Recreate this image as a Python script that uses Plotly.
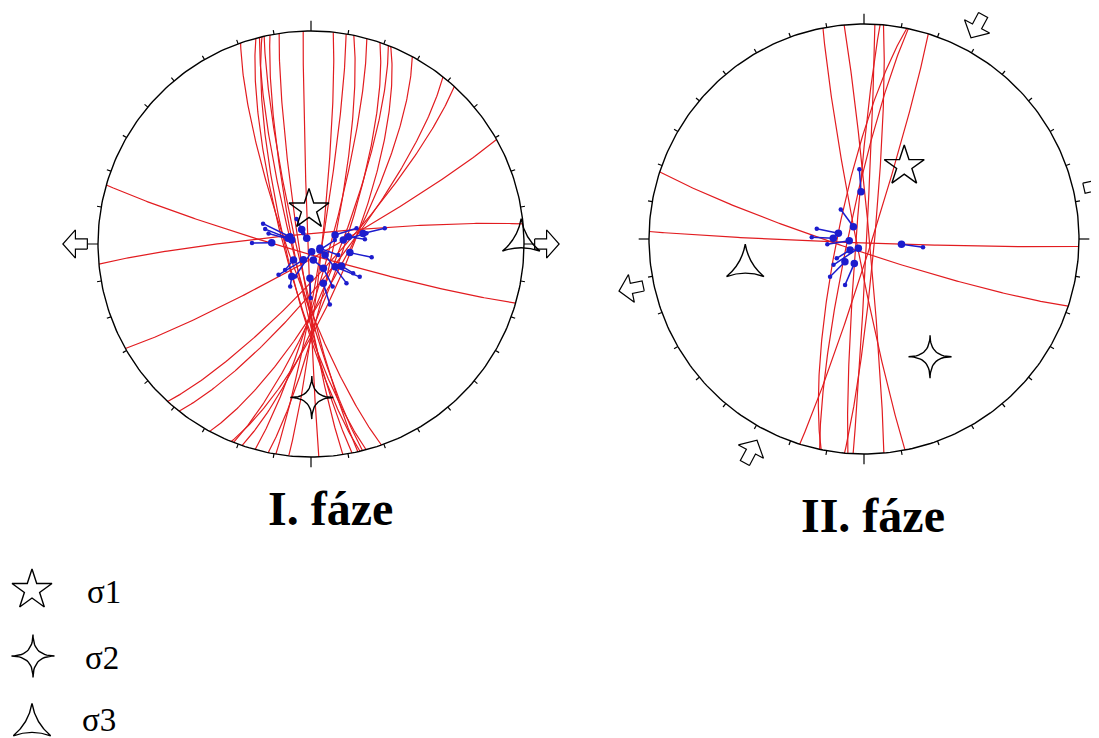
import numpy as np
import plotly.graph_objects as go

# ------------------------------------------------------------------ data
# Phase I: fault planes (right-hand-rule strike, dip), degrees
p1_strike = [6.0, 9.5, 11.6, 15.2, 18.9, 21.3, 22.0, 28.4, 38.3, 42.3,
             160.7, 165.0, 166.0, 166.7, 167.3, 168.9, 171.4, 177.9,
             60.6, 106.1, 264.6]
p1_dip = [85.8, 85.8, 81.4, 82.7, 77.7, 79.1, 74.8, 76.0, 78.0, 80.0,
          80.9, 79.7, 82.7, 80.2, 84.4, 83.1, 85.3, 88.8,
          85.0, 86.0, 86.0]
# Phase I: slip data (start point trend/plunge -> end point trend/plunge)
p1_from_trend = [289, 284, 282, 272, 327.5, 323, 69.4, 83, 78.5, 79, 102.5, 115.7,
                 128, 133.4, 125.7, 205.6, 227.8, 171.7, 210.6, 181.7, 153, 162.6, 123.7, 175]
p1_from_plunge = [81.5, 81.0, 82.5, 75.0, 83.4, 87.3, 80.2, 77.6, 69.7, 75.5, 74.8, 86.2,
                  83.2, 77.4, 75.7, 83.3, 81.0, 83.8, 75.6, 76.9, 79.6, 74.3, 85.9, 87.0]
p1_to_trend = [293, 288, 284, 271, 330, 324, 71, 79, 78, 85, 102.4, 112,
               137.8, 124, 124.7, 226.5, 225, 153, 206, 180.4, 153, 162.7, 80.5, 206]
p1_to_plunge = [70.1, 71.6, 73.3, 67.4, 79.0, 85.0, 71.6, 68.4, 61.0, 69.3, 66.2, 78.8,
                69.8, 67.5, 70.4, 72.9, 76.0, 79.6, 71.9, 69.3, 71.8, 65.7, 80.8, 76.2]
# Phase I: principal stress axes sigma1, sigma2, sigma3 (trend, plunge)
p1_sigma_trend = [356.7, 179.7, 89.0]
p1_sigma_plunge = [76.8, 28.7, 1.5]
# Phase I: horizontal stress arrows (azimuth, +1 outward = extension, -1 inward = compression)
p1_arrow_az = [90, 270]
p1_arrow_sense = [1, 1]

# Phase II
p2_strike = [17.4, 191.5, 191.9, 2.9, 184.3, 5.2, 169.0, 354.7, 108.2, 92.0]
p2_dip = [87.0, 80.0, 84.0, 89.0, 87.0, 86.0, 87.0, 88.0, 85.0, 88.5]
p2_from_trend = [356.4, 319, 282.5, 271.2, 263.5, 211.3, 231.8, 220, 201.7, 98]
p2_from_plunge = [72.1, 83.9, 80.1, 78.4, 84.4, 85.9, 83.3, 78.8, 80.1, 75.7]
p2_to_trend = [356.2, 321.8, 282.3, 271.8, 261.7, 229.7, 234.7, 222, 202.4, 98]
p2_to_plunge = [63.4, 75.8, 71.7, 70.2, 76.0, 74.9, 77.4, 70.8, 71.2, 67.4]
p2_sigma_trend = [28.9, 150.7, 257.3]
p2_sigma_plunge = [58.2, 37.3, 42.8]
p2_arrow_az = [28, 208, 77, 258]
p2_arrow_sense = [-1, -1, 1, 1]

titles = ["I. fáze", "II. fáze"]
legend_labels = ["σ1", "σ2", "σ3"]

# ------------------------------------------------------------------ layout constants
OFF = 8                      # page body margin of the written html
W, H = 1099 - OFF, 738 - OFF  # figure size so that it fills the window
RED = "rgb(226,28,32)"
BLUE = "rgb(28,28,205)"
SERIF = "Liberation Serif, Times New Roman, serif"
# stereonet centres / radii in window pixels
nets = [
    dict(cx=311 - OFF, cy=244 - OFF, R=213, xr=[-1.2, 1.25], yr=[-1.08, 1.08]),
    dict(cx=864 - OFF, cy=239 - OFF, R=215, yr=[-1.07, 1.07]),
]
nets[1]["xr"] = [-1.2, (W - nets[1]["cx"]) / nets[1]["R"]]
STAR5_SIZE, STAR4_RAD, TRI_SIZE = 30, 21.5, 27


def proj(trend, plunge):
    """Lower-hemisphere equal-area (Schmidt) projection, unit primitive."""
    t = np.radians(np.asarray(trend, float))
    p = np.radians(np.asarray(plunge, float))
    e, n, d = np.cos(p) * np.sin(t), np.cos(p) * np.cos(t), np.sin(p)
    k = 1.0 / np.sqrt(1.0 + d)
    return e * k, n * k


def great_circle(strike, dip):
    s, d = np.radians(strike), np.radians(dip)
    lam = np.linspace(0, np.pi, 181)
    e = np.cos(lam) * np.sin(s) + np.sin(lam) * np.cos(s) * np.cos(d)
    n = np.cos(lam) * np.cos(s) - np.sin(lam) * np.sin(s) * np.cos(d)
    dn = np.sin(lam) * np.sin(d)
    k = 1.0 / np.sqrt(1.0 + dn)
    return e * k, n * k


def arrow_poly(az, sense):
    a = np.radians(az)
    ux, uy = np.sin(a), np.cos(a)
    px, py = np.cos(a), -np.sin(a)
    ws, wh = 0.024, 0.066
    if sense > 0:
        u0, u1, u2 = 1.05, 1.106, 1.165
        pts = [(u0, -ws), (u1, -ws), (u1, -wh), (u2, 0), (u1, wh), (u1, ws), (u0, ws), (u0, -ws)]
    else:
        tip, neck, tail = 1.06, 1.12, 1.18
        pts = [(tail, -ws), (neck, -ws), (neck, -wh), (tip, 0), (neck, wh), (neck, ws), (tail, ws), (tail, -ws)]
    xs = [u * ux + v * px for u, v in pts]
    ys = [u * uy + v * py for u, v in pts]
    return xs, ys


def star4_outline(x0, y0, ro, yflip=1.0):
    """Four-pointed star glyph with concave sides (quadratic curves through the centre)."""
    t = np.linspace(0, 1, 16)
    xs, ys = [], []
    for k in range(4):
        a0, a1 = np.radians(90 * k), np.radians(90 * (k + 1))
        A = np.array([np.cos(a0), np.sin(a0)]) * ro
        B = np.array([np.cos(a1), np.sin(a1)]) * ro
        C = np.array([0.0, 0.0])
        pts = ((1 - t) ** 2)[:, None] * A + (2 * (1 - t) * t)[:, None] * C + (t ** 2)[:, None] * B
        xs += list(x0 + pts[:, 0])
        ys += list(y0 + yflip * pts[:, 1])
    xs.append(xs[0])
    ys.append(ys[0])
    return xs, ys


fig = go.Figure()

phases = [
    (p1_strike, p1_dip, p1_from_trend, p1_from_plunge, p1_to_trend, p1_to_plunge,
     p1_sigma_trend, p1_sigma_plunge, p1_arrow_az, p1_arrow_sense),
    (p2_strike, p2_dip, p2_from_trend, p2_from_plunge, p2_to_trend, p2_to_plunge,
     p2_sigma_trend, p2_sigma_plunge, p2_arrow_az, p2_arrow_sense),
]

for i, (st, dp, ft, fp, tt, tp, sgt, sgp, aaz, asn) in enumerate(phases):
    xa = "x" if i == 0 else "x2"
    ya = "y" if i == 0 else "y2"
    R = nets[i]["R"]
    # great circles
    gx, gy = [], []
    for s, d in zip(st, dp):
        x, y = great_circle(s, d)
        gx += list(x) + [None]
        gy += list(y) + [None]
    fig.add_trace(go.Scatter(x=gx, y=gy, mode="lines", xaxis=xa, yaxis=ya,
                             line=dict(color=RED, width=1.2), hoverinfo="skip"))
    # slip arrows
    x0, y0 = proj(ft, fp)
    x1, y1 = proj(tt, tp)
    sx, sy = [], []
    for a, b, c, e in zip(x0, y0, x1, y1):
        sx += [a, c, None]
        sy += [b, e, None]
    fig.add_trace(go.Scatter(x=sx, y=sy, mode="lines", xaxis=xa, yaxis=ya,
                             line=dict(color=BLUE, width=1.5), hoverinfo="skip"))
    fig.add_trace(go.Scatter(x=x0, y=y0, mode="markers", xaxis=xa, yaxis=ya,
                             marker=dict(color=BLUE, size=7.5), hoverinfo="skip"))
    fig.add_trace(go.Scatter(x=x1, y=y1, mode="markers", xaxis=xa, yaxis=ya,
                             marker=dict(color=BLUE, size=4.5), hoverinfo="skip"))
    # primitive circle
    th = np.linspace(0, 2 * np.pi, 361)
    fig.add_trace(go.Scatter(x=np.sin(th), y=np.cos(th), mode="lines", xaxis=xa, yaxis=ya,
                             line=dict(color="black", width=1.4), hoverinfo="skip"))
    # ticks every 10 degrees, longer at cardinal points
    tx, ty = [], []
    for az in range(0, 360, 10):
        a = np.radians(az)
        L = 1.048 if az % 90 == 0 else 1.02
        tx += [np.sin(a), L * np.sin(a), None]
        ty += [np.cos(a), L * np.cos(a), None]
    fig.add_trace(go.Scatter(x=tx, y=ty, mode="lines", xaxis=xa, yaxis=ya,
                             line=dict(color="black", width=1.2), hoverinfo="skip"))
    # stress arrows
    for az, sn in zip(aaz, asn):
        ax_, ay_ = arrow_poly(az, sn)
        fig.add_trace(go.Scatter(x=ax_, y=ay_, mode="lines", fill="toself", fillcolor="white",
                                 xaxis=xa, yaxis=ya, line=dict(color="black", width=1.2),
                                 hoverinfo="skip"))
    # principal stresses
    mx, my = proj(sgt, sgp)
    fig.add_trace(go.Scatter(x=[mx[0]], y=[my[0]], mode="markers", xaxis=xa, yaxis=ya,
                             marker=dict(symbol="star-open", size=STAR5_SIZE, color="black",
                                         line=dict(color="black", width=1.4)), hoverinfo="skip"))
    sx4, sy4 = star4_outline(mx[1], my[1], STAR4_RAD / R)
    fig.add_trace(go.Scatter(x=sx4, y=sy4, mode="lines", xaxis=xa, yaxis=ya,
                             line=dict(color="black", width=1.4), hoverinfo="skip"))
    fig.add_trace(go.Scatter(x=[mx[2]], y=[my[2]], mode="markers", xaxis=xa, yaxis=ya,
                             marker=dict(symbol="star-triangle-up-open", size=TRI_SIZE, color="black",
                                         line=dict(color="black", width=1.4)), hoverinfo="skip"))

# legend symbols on a pixel overlay axis (window pixels)
leg_px = [(32 - OFF, 590 - OFF), (33 - OFF, 656 - OFF), (32 - OFF, 725 - OFF)]
fig.add_trace(go.Scatter(x=[leg_px[0][0]], y=[leg_px[0][1]], mode="markers", xaxis="x3", yaxis="y3",
                         marker=dict(symbol="star-open", size=STAR5_SIZE, color="black",
                                     line=dict(color="black", width=1.4)), hoverinfo="skip"))
lx4, ly4 = star4_outline(leg_px[1][0], leg_px[1][1], STAR4_RAD, yflip=-1.0)
fig.add_trace(go.Scatter(x=lx4, y=ly4, mode="lines", xaxis="x3", yaxis="y3",
                         line=dict(color="black", width=1.4), hoverinfo="skip"))
fig.add_trace(go.Scatter(x=[leg_px[2][0]], y=[leg_px[2][1]], mode="markers", xaxis="x3", yaxis="y3",
                         marker=dict(symbol="star-triangle-up-open", size=TRI_SIZE, color="black",
                                     line=dict(color="black", width=1.4)), hoverinfo="skip"))


def dom(n):
    cx, cy, R = n["cx"], n["cy"], n["R"]
    xd = [max(0.0, (cx + n["xr"][0] * R) / W), min(1.0, (cx + n["xr"][1] * R) / W)]
    yd = [max(0.0, 1 - (cy - n["yr"][0] * R) / H), min(1.0, 1 - (cy - n["yr"][1] * R) / H)]
    return xd, yd


ax_common = dict(visible=False, showgrid=False, zeroline=False, fixedrange=True)
xd1, yd1 = dom(nets[0])
xd2, yd2 = dom(nets[1])


def px_x(x):
    return (x - OFF) / W


def px_y(y):
    return 1 - (y - OFF) / H


annotations = [
    dict(text="<b>%s</b>" % titles[0], x=px_x(330), y=px_y(508), xref="paper", yref="paper",
         xanchor="center", yanchor="middle", showarrow=False,
         font=dict(family=SERIF, size=48, color="black")),
    dict(text="<b>%s</b>" % titles[1], x=px_x(873), y=px_y(515), xref="paper", yref="paper",
         xanchor="center", yanchor="middle", showarrow=False,
         font=dict(family=SERIF, size=48, color="black")),
]
leg_text_px = [(85, 592), (83, 658), (80, 720)]
for k in range(3):
    annotations.append(dict(text=legend_labels[k], x=px_x(leg_text_px[k][0]), y=px_y(leg_text_px[k][1]),
                            xref="paper", yref="paper", xanchor="left", yanchor="middle",
                            showarrow=False, font=dict(family=SERIF, size=33, color="black")))

fig.update_layout(
    width=W, height=H, margin=dict(l=0, r=0, t=0, b=0, pad=0),
    paper_bgcolor="white", plot_bgcolor="rgba(0,0,0,0)", showlegend=False,
    xaxis=dict(domain=xd1, range=nets[0]["xr"], **ax_common),
    yaxis=dict(domain=yd1, range=nets[0]["yr"], **ax_common),
    xaxis2=dict(domain=xd2, range=nets[1]["xr"], anchor="y2", **ax_common),
    yaxis2=dict(domain=yd2, range=nets[1]["yr"], anchor="x2", **ax_common),
    xaxis3=dict(domain=[0, 1], range=[0, W], anchor="y3", **ax_common),
    yaxis3=dict(domain=[0, 1], range=[H, 0], anchor="x3", **ax_common),
    annotations=annotations,
)

fig.write_html("out.html")
